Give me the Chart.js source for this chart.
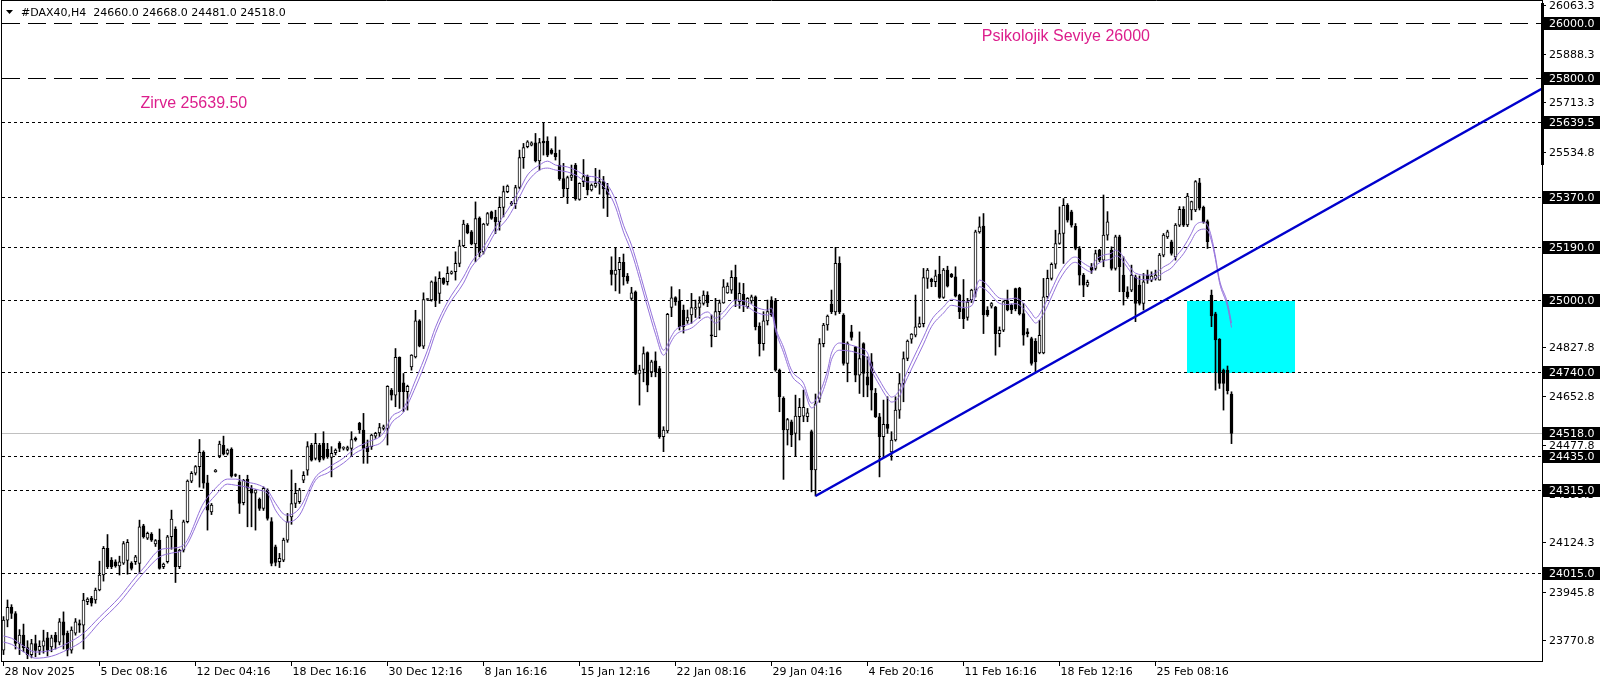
<!DOCTYPE html>
<html><head><meta charset="utf-8">
<script src="https://cdn.jsdelivr.net/npm/chart.js@4.4.1/dist/chart.umd.min.js"></script>
<style>html,body{margin:0;padding:0;background:#fff;overflow:hidden}canvas{display:block}</style>
</head><body>
<canvas id="c" width="1606" height="684"></canvas>
<script>
// ---------- DATA (H4 candles, bar index 0 = 28 Nov 2025) ----------
const symbolName = '#DAX40,H4';
const opens = [
23736,23844,23890,23868,23760,23790,23745,23720,23760,23735,
23750,23780,23748,23790,23765,23838,23797,23736,23797,23832,
23826,23911,23923,23917,23953,24007,24103,24061,24055,24040,
24050,24060,24050,24055,24049,24184,24140,24155,24119,24133,
24037,24055,24145,24173,24037,24097,24199,24346,24374,24398,
24450,24340,24235,24380,24437,24475,24446,24461,24368,24343,
24268,24352,24320,24302,24280,24247,24313,24200,24109,24055,
24061,24133,24217,24265,24272,24349,24385,24476,24428,24476,
24482,24460,24431,24448,24482,24464,24460,24464,24500,24554,
24530,24470,24470,24508,24520,24536,24536,24674,24656,24792,
24700,24668,24758,24794,24924,24833,25001,24999,25065,25023,
25077,25065,25095,25101,25131,25195,25269,25245,25201,25295,
25173,25273,25317,25297,25281,25333,25390,25350,25347,25405,
25513,25552,25558,25566,25501,25572,25572,25540,25528,25486,
25437,25401,25441,25486,25362,25426,25444,25396,25410,25420,
25426,25400,25107,25091,25109,25135,25085,25005,25029,24734,
24749,24809,24740,24780,24752,24506,24527,24972,25008,24996,
24963,24924,24945,24966,24972,24987,25017,24872,24867,24957,
24989,25025,25035,25081,24993,25020,24975,24996,25011,24905,
24842,24924,24999,24996,24746,24644,24530,24560,24518,24578,
24580,24578,24524,24386,24644,24842,24909,24984,24956,25131,
24945,24770,24884,24830,24728,24842,24722,24776,24662,24578,
24506,24551,24451,24494,24602,24698,24788,24858,24872,24902,
24914,25077,25074,25065,25092,25008,25107,25092,25083,25017,
24968,24936,25000,25035,25245,25266,24963,24977,24974,24878,
24890,24996,24980,25040,25041,24950,24884,24860,24850,24808,
24808,25011,25077,25128,25203,25239,25341,25317,25265,25185,
25089,25053,25117,25113,25179,25143,25233,25179,25113,25227,
25089,25029,25035,25083,25053,24987,25089,25071,25077,25071,
25161,25227,25209,25155,25269,25326,25270,25324,25324,25422,
25333,25282,25017,24949,24857,24746,24746,24660];
const highs = [
23857,23917,23900,23875,23810,23830,23770,23775,23790,23770,
23808,23800,23790,23800,23850,23874,23805,23820,23850,23845,
23941,23925,23930,23960,24057,24110,24153,24070,24062,24075,
24128,24135,24055,24078,24205,24190,24162,24160,24135,24173,
24050,24150,24241,24181,24100,24205,24350,24380,24402,24496,
24455,24367,24265,24388,24490,24508,24462,24466,24372,24367,
24352,24367,24330,24315,24285,24325,24318,24214,24115,24085,
24140,24229,24386,24338,24320,24380,24488,24482,24518,24482,
24524,24482,24470,24462,24488,24470,24472,24524,24505,24558,
24590,24494,24515,24522,24554,24548,24690,24680,24824,24794,
24734,24692,24802,24962,24928,25025,25005,25068,25083,25101,
25080,25119,25104,25173,25215,25287,25275,25250,25353,25299,
25276,25315,25320,25323,25371,25410,25414,25355,25413,25540,
25564,25574,25570,25600,25582,25639.5,25588,25545,25588,25540,
25492,25446,25486,25492,25422,25506,25450,25418,25474,25468,
25445,25420,25155,25189,25153,25165,25095,25045,25032,24764,
24830,24812,24782,24812,24760,24542,24951,25047,25011,25037,
24981,24963,25023,24999,25011,25032,25029,24945,25005,24999,
25073,25061,25105,25125,25061,25059,25008,25017,25014,24917,
24957,24999,25011,25005,24750,24650,24572,24566,24656,24644,
24674,24608,24530,24660,24860,24915,24945,25035,25189,25155,
24950,24848,24908,24832,24884,24845,24794,24806,24680,24590,
24638,24650,24524,24650,24734,24812,24855,24878,25017,24938,
25113,25113,25078,25107,25157,25113,25121,25095,25119,25020,
25073,25005,25038,25251,25299,25311,24975,24990,24976,24902,
24996,25035,24985,25042,25045,24987,24896,24865,24860,24926,
25077,25107,25133,25251,25335,25365,25347,25323,25275,25192,
25095,25071,25131,25179,25182,25378,25318,25191,25233,25233,
25155,25047,25125,25089,25086,25095,25107,25101,25107,25167,
25239,25251,25215,25275,25336,25336,25384,25356,25430,25438,
25338,25288,25035,24955,24860,24750,24761,24668];
const lows = [
23720,23820,23850,23740,23720,23730,23705,23708,23712,23720,
23725,23715,23730,23740,23755,23740,23715,23725,23790,23800,
23740,23900,23895,23905,23950,23985,24030,24030,24035,24007,
24045,24010,24025,24045,24013,24140,24135,24128,24110,24028,
24030,24050,24100,23980,24030,24090,24195,24340,24368,24324,
24320,24169,24225,24378,24430,24440,24440,24360,24362,24229,
24260,24181,24181,24169,24240,24240,24205,24040,24040,24034,
24055,24125,24190,24250,24265,24340,24367,24418,24422,24415,
24422,24428,24361,24440,24452,24458,24455,24434,24490,24518,
24410,24410,24460,24500,24506,24530,24476,24638,24614,24608,
24596,24602,24746,24790,24830,24824,24997,24995,24975,24987,
25055,25053,25092,25071,25119,25191,25238,25198,25137,25155,
25165,25268,25290,25239,25251,25299,25386,25340,25329,25400,
25474,25548,25555,25497,25468,25522,25516,25525,25504,25431,
25371,25347,25430,25359,25359,25408,25378,25392,25405,25381,
25330,25300,25053,25032,25023,25053,25059,24998,24730,24620,
24704,24668,24722,24722,24500,24452,24520,24939,24980,24891,
24880,24915,24915,24936,24933,24981,24975,24830,24867,24891,
24987,25023,25023,24975,24969,24957,24969,24987,24891,24797,
24818,24909,24940,24742,24596,24352,24476,24470,24434,24494,
24560,24560,24307,24292,24630,24830,24890,24950,24945,24950,
24764,24704,24854,24704,24662,24650,24650,24602,24575,24361,
24431,24518,24421,24490,24572,24632,24780,24843,24866,24900,
24902,25041,25047,25047,25005,25005,25046,25080,25010,24932,
24896,24926,24990,25010,25240,24878,24940,24970,24800,24830,
24885,24960,24950,24960,24945,24836,24866,24764,24738,24805,
24805,25005,25071,25113,25200,25131,25280,25262,25180,25053,
25011,25047,25095,25107,25137,25119,25215,25107,25107,25029,
24981,25005,25029,24921,24981,24963,25059,25065,25071,25071,
25155,25221,25161,25143,25264,25264,25264,25288,25318,25324,
25276,25185,24903,24674,24680,24602,24660,24481];
const closes = [
23844,23890,23868,23760,23790,23745,23720,23760,23735,23750,
23770,23736,23780,23765,23838,23790,23736,23808,23838,23826,
23917,23920,23905,23953,24007,24103,24037,24037,24040,24055,
24120,24125,24031,24073,24181,24145,24157,24133,24131,24031,
24046,24145,24209,24037,24097,24199,24346,24374,24398,24450,
24338,24241,24259,24385,24479,24443,24458,24364,24366,24265,
24349,24320,24302,24313,24247,24320,24211,24049,24052,24067,
24133,24199,24265,24302,24313,24367,24470,24421,24482,24421,
24428,24434,24446,24458,24464,24465,24467,24496,24494,24530,
24464,24452,24512,24518,24539,24542,24688,24656,24792,24668,
24668,24688,24800,24924,24833,25001,25001,25065,24999,25077,
25059,25095,25101,25131,25195,25273,25241,25201,25293,25169,
25273,25311,25293,25281,25333,25390,25410,25345,25405,25513,
25549,25570,25566,25501,25567,25566,25522,25528,25516,25437,
25401,25441,25450,25365,25420,25444,25396,25414,25420,25426,
25400,25380,25091,25107,25135,25083,25067,25025,24734,24746,
24806,24692,24776,24740,24506,24530,24947,25007,24993,24903,
24903,24936,24972,24972,24989,25017,24989,24870,24957,24989,
25047,25049,25081,24999,25023,24981,25005,25011,24903,24842,
24924,24957,24945,24746,24650,24530,24568,24512,24580,24612,
24612,24592,24386,24625,24842,24909,24941,24957,25131,24956,
24770,24842,24864,24728,24788,24734,24692,24674,24578,24506,
24551,24536,24494,24602,24698,24788,24851,24876,24902,24914,
25080,25107,25065,25086,25008,25107,25049,25083,25013,24957,
24932,24992,25035,25245,25263,24945,24945,24986,24878,24890,
24993,24963,24963,24968,24950,24872,24878,24770,24776,24872,
25011,25077,25128,25203,25239,25341,25287,25269,25185,25089,
25053,25063,25107,25167,25143,25233,25281,25113,25227,25119,
25029,25011,25089,24987,24987,25065,25071,25085,25089,25161,
25233,25245,25167,25269,25326,25269,25374,25354,25426,25330,
25282,25210,24942,24855,24698,24698,24672,24518];

// moving-average lines
const maBars = [0,2,5,8,12,16,20,24,29,33,35,39,42,45,50,53,56,58,61,64,66,68,70,71,74,78,81,85,88,91,95,97,100,103,106,108,111,115,117,120,123,126,129,131,134,136,138,141,143,146,148,151,153,155,157,161,163,165,167,168,172,176,178,180,183,186,188,191,192,193,195,197,200,202,204,206,207,209,212,214,216,217,219,221,222,224,225,227,230,232,235,237,240,242,244,246,247,249,251,253,255,257,258,260,262,264,267,268,270,272,273,275,277,278,279,281,283,286,288,290,292,293,295,297,298,300,301,302,303,304,306,307];
const maUpper = [23787,23779,23751,23729,23736,23761,23797,23855,23927,23999,24032,24097,24104,24115,24266,24320,24353,24353,24342,24331,24313,24266,24227,24223,24248,24360,24393,24429,24465,24486,24519,24577,24609,24710,24818,24901,24992,25082,25136,25190,25262,25323,25396,25450,25486,25500,25486,25479,25468,25446,25443,25414,25360,25269,25197,24999,24901,24818,24869,24891,24916,24956,24934,24956,24999,24992,24974,24963,24970,24901,24829,24746,24699,24627,24663,24746,24808,24844,24836,24826,24808,24764,24710,24663,24649,24674,24710,24775,24865,24927,24974,25002,24992,24999,25071,25053,25035,25006,25002,25006,24988,24952,24934,24974,25035,25096,25150,25154,25132,25118,25143,25161,25168,25179,25172,25132,25096,25089,25096,25118,25136,25154,25190,25240,25269,25280,25269,25226,25154,25071,24988,24916];
const maLower = [23765,23757,23730,23707,23714,23738,23772,23836,23908,23980,24014,24072,24086,24100,24241,24295,24335,24331,24324,24313,24302,24241,24205,24198,24223,24349,24375,24411,24447,24468,24494,24555,24595,24685,24793,24879,24974,25060,25118,25168,25244,25294,25371,25425,25468,25475,25468,25461,25450,25425,25425,25392,25335,25244,25172,24974,24876,24800,24851,24873,24898,24938,24916,24938,24981,24974,24956,24945,24952,24890,24810,24728,24680,24610,24642,24722,24784,24818,24814,24805,24788,24746,24692,24645,24631,24652,24688,24750,24840,24903,24952,24980,24972,24978,25047,25031,25015,24987,24983,24986,24968,24932,24916,24950,25010,25072,25130,25135,25114,25100,25122,25140,25148,25158,25154,25116,25080,25072,25078,25098,25115,25132,25166,25214,25240,25255,25250,25212,25145,25062,24975,24900];

// annotations
const trendBars = [203, 384.9];
const trendPrices = [24292, 25764];
const longDashLevels = [26000, 25800];
const dotLevels = [25639.5, 25370, 25190, 25000, 24740, 24435, 24315, 24015];
const zoneStartBar = 295.9, zoneEndBar = 322.9, zoneHigh = 24995, zoneLow = 24736;
const priceTicks = [26063.3,25888.3,25713.3,25534.8,25359.8,25181.3,25006.3,24827.8,24652.8,24477.8,24299.3,24124.3,23945.8,23770.8];
const timeTickBars = [0,24,48,72,96,120,144,168,192,216,240,264,288];
const timeTickLabels = ['28 Nov 2025','5 Dec 08:16','12 Dec 04:16','18 Dec 16:16','30 Dec 12:16','8 Jan 16:16','15 Jan 12:16','22 Jan 08:16','29 Jan 04:16','4 Feb 20:16','11 Feb 16:16','18 Feb 12:16','25 Feb 08:16'];
const noteTexts = ['Psikolojik Seviye 26000', 'Zirve 25639.50'];
const noteBars = [265.6, 47.6];
const notePrices = [25951, 25706];

// ---------- BUILD ----------
const N = opens.length;
const wickData = [], bodyData = [], bodyFill = [];
for (let i = 0; i < N; i++) {
  wickData.push({x: i, y: [lows[i], highs[i]]});
  bodyData.push({x: i, y: [Math.min(opens[i], closes[i]), Math.max(opens[i], closes[i])]});
  bodyFill.push(closes[i] >= opens[i] ? '#ffffff' : '#000000');
}
const maU = maBars.map((b, i) => ({x: b, y: maUpper[i]}));
const maL = maBars.map((b, i) => ({x: b, y: maLower[i]}));
const trend = trendBars.map((b, i) => ({x: b, y: trendPrices[i]}));

const FONT = "11px 'DejaVu Sans'";
const decor = {
  id: 'decor',
  beforeDraw(chart) {
    const ctx = chart.ctx;
    ctx.save(); ctx.fillStyle = '#fff'; ctx.fillRect(0, 0, chart.width, chart.height); ctx.restore();
  },
  beforeDatasetsDraw(chart) {
    const {ctx, chartArea: a, scales: {x, y}} = chart;
    ctx.save();
    const zx1 = Math.round(x.getPixelForValue(zoneStartBar));
    const zx2 = Math.round(x.getPixelForValue(zoneEndBar));
    const zy1 = Math.round(y.getPixelForValue(zoneHigh));
    const zy2 = Math.round(y.getPixelForValue(zoneLow));
    ctx.fillStyle = '#00FFFF';
    ctx.fillRect(zx1, zy1, zx2 - zx1, zy2 - zy1);
    ctx.lineWidth = 1;
    const hline = (p, dash, color) => {
      const yy = Math.round(y.getPixelForValue(p)) + 0.5;
      ctx.setLineDash(dash); ctx.strokeStyle = color;
      ctx.beginPath(); ctx.moveTo(a.left, yy); ctx.lineTo(a.right, yy); ctx.stroke();
    };
    hline(closes[N - 1], [], '#C0C0C0');
    longDashLevels.forEach(p => hline(p, [18, 8], '#000'));
    dotLevels.forEach(p => hline(p, [3, 3], '#000'));
    ctx.restore();
  },
  afterDraw(chart) {
    const {ctx, chartArea: a, scales: {x, y}} = chart;
    ctx.save();
    ctx.setLineDash([]); ctx.strokeStyle = '#000'; ctx.lineWidth = 1;
    const R = a.right, B = a.bottom;
    ctx.beginPath();
    ctx.moveTo(1.5, 0); ctx.lineTo(1.5, B + 1);
    ctx.moveTo(1, 0.5); ctx.lineTo(R, 0.5);
    ctx.moveTo(1, B + 0.5); ctx.lineTo(R + 1, B + 0.5);
    ctx.moveTo(R + 0.5, 0); ctx.lineTo(R + 0.5, B + 1);
    ctx.stroke();
    ctx.fillStyle = '#000';
    ctx.fillRect(R - 1, 3, 3, 162);
    // price ticks
    ctx.font = FONT; ctx.textBaseline = 'middle'; ctx.textAlign = 'left';
    priceTicks.forEach(v => {
      const yy = Math.round(y.getPixelForValue(v)) + 0.5;
      ctx.beginPath(); ctx.moveTo(R + 1, yy); ctx.lineTo(R + 4, yy); ctx.stroke();
      ctx.fillStyle = '#000'; ctx.fillText(v.toFixed(1), R + 7, yy + 0.5);
    });
    // level boxes
    const box = p => {
      const yy = Math.round(y.getPixelForValue(p));
      ctx.fillStyle = '#000'; ctx.fillRect(R + 1, yy - 6, 57, 13);
      ctx.fillStyle = '#fff'; ctx.fillText(p.toFixed(1), R + 7, yy + 1);
    };
    longDashLevels.forEach(box); dotLevels.forEach(box); box(closes[N - 1]);
    // time axis
    ctx.fillStyle = '#000';
    timeTickBars.forEach((b, i) => {
      const xx = Math.floor(x.getPixelForValue(b)) + 0.5;
      ctx.beginPath(); ctx.moveTo(xx, B + 1); ctx.lineTo(xx, B + 5); ctx.stroke();
      ctx.fillText(timeTickLabels[i], xx + 1, B + 11);
    });
    // header
    ctx.beginPath(); ctx.moveTo(6, 10); ctx.lineTo(13, 10); ctx.lineTo(9.5, 14); ctx.closePath(); ctx.fill();
    ctx.fillText(symbolName + '  ' + [opens[N-1], highs[N-1], lows[N-1], closes[N-1]].map(v => v.toFixed(1)).join(' '), 21, 13);
    // notes
    ctx.font = "16px 'Liberation Sans'"; ctx.textAlign = 'center'; ctx.fillStyle = '#DC1E8C';
    noteTexts.forEach((t, i) => ctx.fillText(t, x.getPixelForValue(noteBars[i]), y.getPixelForValue(notePrices[i])));
    ctx.restore();
  }
};

new Chart(document.getElementById('c'), {
  type: 'bar',
  data: {
    datasets: [
      {type: 'line', data: trend, borderColor: '#0000CD', borderWidth: 2.5, pointRadius: 0, order: 0},
      {type: 'line', data: maU, borderColor: '#9370DB', borderWidth: 1, pointRadius: 0, cubicInterpolationMode: 'monotone', order: 1},
      {type: 'line', data: maL, borderColor: '#9370DB', borderWidth: 1, pointRadius: 0, cubicInterpolationMode: 'monotone', order: 1},
      {data: bodyData, backgroundColor: bodyFill, borderColor: '#000', borderWidth: 1, borderSkipped: false, barThickness: 3, minBarLength: 1, grouped: false, order: 2},
      {data: wickData, backgroundColor: '#000', borderWidth: 0, barThickness: 1, grouped: false, order: 3}
    ]
  },
  options: {
    responsive: false, animation: false, devicePixelRatio: 1,
    layout: {padding: {left: 2, right: 64, top: 1, bottom: 23}},
    plugins: {legend: {display: false}, tooltip: {enabled: false}},
    events: [],
    scales: {
      x: {type: 'linear', min: -0.375, max: 384.625, display: false, offset: false},
      y: {type: 'linear', min: 23696.8, max: 26077.8, display: false}
    }
  },
  plugins: [decor]
});
</script>
</body></html>
